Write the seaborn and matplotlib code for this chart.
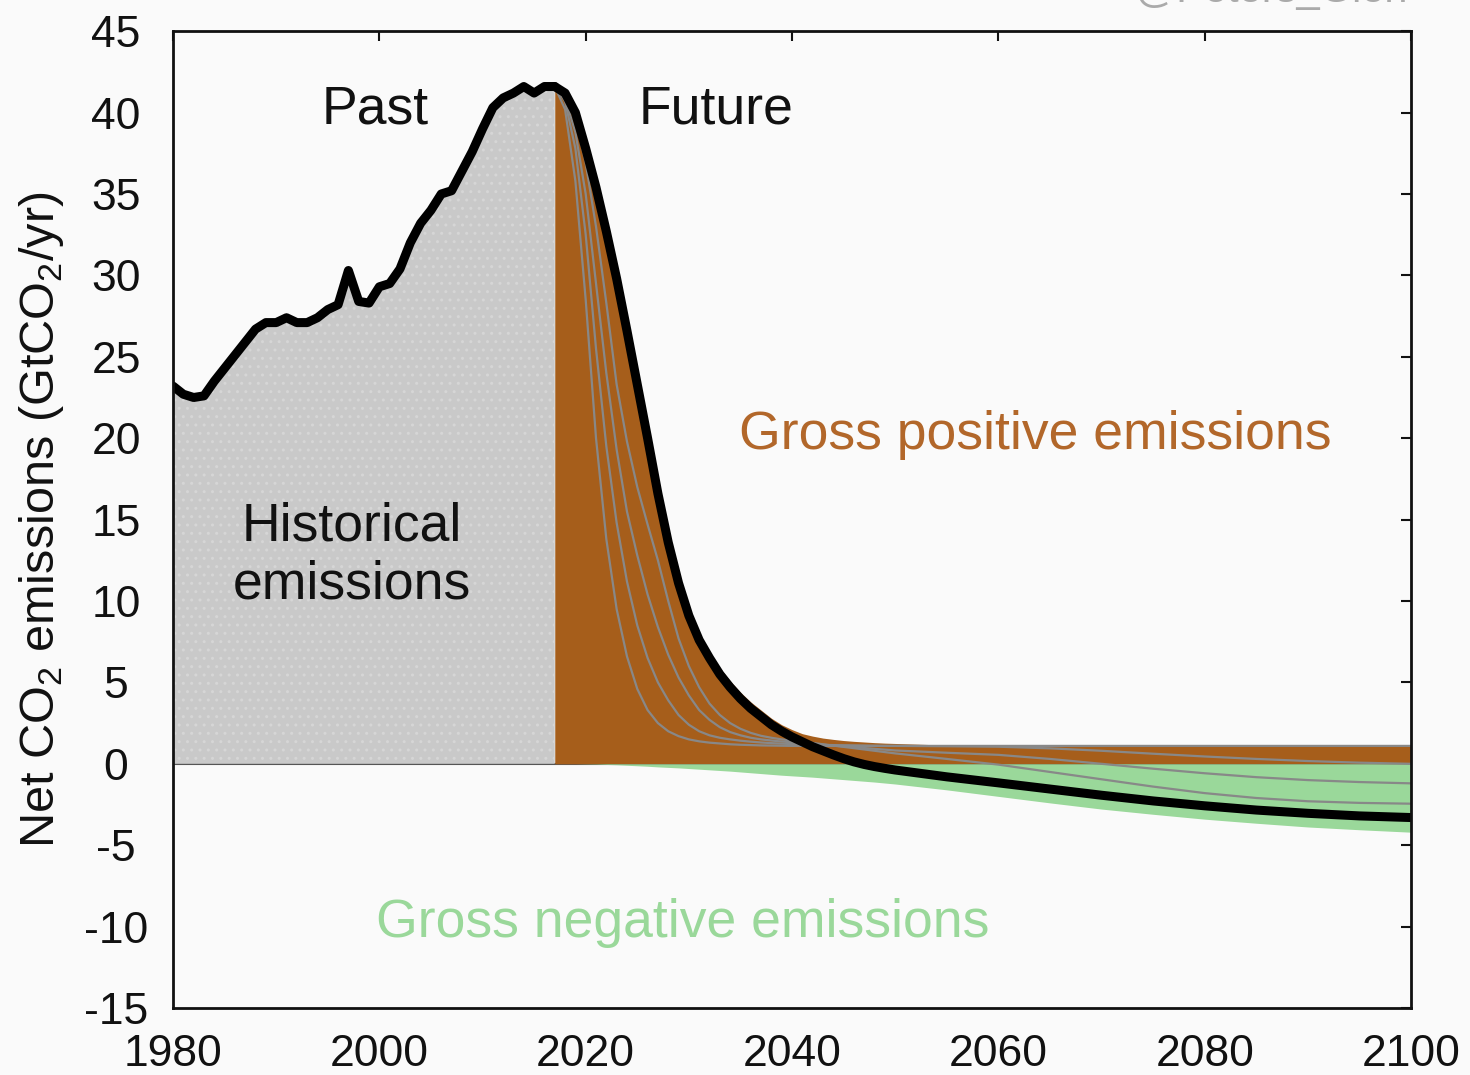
import numpy as np
import pandas as pd
import matplotlib
matplotlib.use("Agg")
import matplotlib.pyplot as plt
import seaborn as sns

# historical net CO2 emissions (GtCO2/yr)
hist_years = list(range(1980, 2018))
hist_values = [23.2, 22.7, 22.5, 22.6, 23.5, 24.3, 25.1, 25.9, 26.7, 27.1,
               27.1, 27.4, 27.1, 27.1, 27.4, 27.9, 28.2, 30.3, 28.4, 28.3,
               29.3, 29.5, 30.4, 32.0, 33.2, 34.0, 35.0, 35.2, 36.4, 37.6,
               39.0, 40.3, 40.9, 41.2, 41.6, 41.2, 41.6, 41.6]

# future scenario years: yearly to 2050, then every 5 years
fut_years = list(range(2017, 2051)) + list(range(2055, 2101, 5))

# main scenario: net, gross positive and gross negative
net_main = [41.6, 41.2, 40.0, 37.8, 35.4, 32.7, 29.8, 26.6, 23.3, 20.0,
            16.6, 13.6, 11.1, 9.1, 7.6, 6.5, 5.5, 4.7, 4.0, 3.4,
            2.9, 2.4, 2.0, 1.65, 1.35, 1.05, 0.8, 0.55, 0.32, 0.12,
            -0.04, -0.17, -0.28, -0.38,
            -0.8, -1.17, -1.55, -1.93, -2.28, -2.58, -2.84, -3.04, -3.2, -3.3]
gross_pos = [41.6, 41.2, 40.0, 37.8, 35.4, 32.7, 29.9, 26.7, 23.4, 20.1,
             16.8, 13.8, 11.3, 9.4, 7.9, 6.8, 5.9, 5.1, 4.4, 3.8,
             3.3, 2.8, 2.4, 2.1, 1.85, 1.7, 1.58, 1.5, 1.43, 1.38,
             1.34, 1.3, 1.27, 1.25,
             1.15, 1.1, 1.1, 1.1, 1.1, 1.1, 1.1, 1.1, 1.1, 1.1]
gross_neg = [0.0, 0.0, 0.0, -0.01, -0.02, -0.04, -0.06, -0.09, -0.12, -0.15,
             -0.19, -0.22, -0.25, -0.29, -0.33, -0.37, -0.41, -0.45, -0.5, -0.55,
             -0.6, -0.65, -0.7, -0.74, -0.78, -0.82, -0.87, -0.92, -0.97, -1.02,
             -1.07, -1.12, -1.18, -1.24,
             -1.6, -2.0, -2.4, -2.78, -3.1, -3.4, -3.65, -3.88, -4.05, -4.2]

# other scenarios (net emissions)
net_alt1 = [41.6, 40.2, 35.8, 28.5, 20.0, 13.8, 9.5, 6.6, 4.6, 3.3,
            2.5, 2.0, 1.7, 1.5, 1.38, 1.3, 1.25, 1.2, 1.17, 1.15,
            1.13, 1.12, 1.11, 1.1, 1.1, 1.1, 1.1, 1.1, 1.1, 1.1,
            1.1, 1.1, 1.1, 1.1,
            1.1, 1.1, 1.1, 1.1, 1.1, 1.1, 1.1, 1.1, 1.1, 1.1]
net_alt2 = [41.6, 40.7, 37.8, 32.5, 25.5, 19.5, 14.8, 11.2, 8.5, 6.5,
            5.0, 3.9, 3.0, 2.4, 2.0, 1.75, 1.6, 1.5, 1.42, 1.36,
            1.31, 1.27, 1.24, 1.21, 1.19, 1.17, 1.16, 1.15, 1.14, 1.13,
            1.12, 1.11, 1.1, 1.1,
            1.08, 1.05, 0.95, 0.8, 0.62, 0.45, 0.3, 0.17, 0.07, 0.0]
net_alt3 = [41.6, 40.9, 38.8, 35.0, 29.5, 24.0, 19.3, 15.5, 12.8, 10.4,
            8.4, 6.7, 5.3, 4.2, 3.3, 2.7, 2.25, 1.95, 1.75, 1.6,
            1.5, 1.43, 1.37, 1.32, 1.27, 1.22, 1.17, 1.12, 1.07, 1.02,
            0.97, 0.92, 0.87, 0.82,
            0.68, 0.55, 0.3, 0.0, -0.3, -0.58, -0.82, -1.0, -1.12, -1.2]
net_alt4 = [41.6, 41.1, 39.6, 36.9, 33.0, 28.3, 23.3, 19.8, 17.0, 14.7,
            12.5, 10.0, 7.7, 6.0, 4.7, 3.7, 3.0, 2.5, 2.15, 1.9,
            1.72, 1.6, 1.5, 1.42, 1.35, 1.28, 1.2, 1.12, 1.04, 0.96,
            0.88, 0.8, 0.72, 0.64,
            0.3, -0.05, -0.5, -0.95, -1.4, -1.8, -2.1, -2.3, -2.4, -2.45]

sns.set_theme(style="white")
plt.rcParams['font.family'] = ['Liberation Sans', 'DejaVu Sans']
plt.rcParams['mathtext.fontset'] = 'custom'
plt.rcParams['mathtext.rm'] = 'Liberation Sans'
plt.rcParams['axes.unicode_minus'] = False
plt.rcParams['hatch.color'] = '#dedede'
plt.rcParams['hatch.linewidth'] = 1.0

bg = '#fafafa'
ink = '#111111'
fig = plt.figure(figsize=(14.7, 10.75), dpi=100, facecolor=bg)
ax = fig.add_axes([0.1177, 0.0623, 0.8422, 0.9087])
ax.set_facecolor(bg)

hist = pd.DataFrame({'year': hist_years, 'value': hist_values})
fut = pd.DataFrame({'year': fut_years, 'net': net_main, 'pos': gross_pos, 'neg': gross_neg,
                    'alt1': net_alt1, 'alt2': net_alt2, 'alt3': net_alt3, 'alt4': net_alt4})

ax.plot([1980, 2100], [0, 0], color='#555555', lw=1.5, zorder=1)

# fills
ax.fill_between(hist['year'], 0, hist['value'], facecolor='#c9c9c9', hatch='..',
                edgecolor='#d6d6d6', linewidth=0, zorder=2)
ax.fill_between(fut['year'], 0, fut['pos'], color='#a65e1b', linewidth=0, zorder=2)
ax.fill_between(fut['year'], fut['neg'], 0, color='#9ad89a', linewidth=0, zorder=2)

# other scenario lines
for col in ['alt1', 'alt2', 'alt3', 'alt4']:
    sns.lineplot(data=fut, x='year', y=col, ax=ax, color='#888888', lw=1.6, zorder=3)

# main lines
sns.lineplot(data=hist, x='year', y='value', ax=ax, color='black', lw=6.5, zorder=4,
             solid_joinstyle='round', solid_capstyle='round')
sns.lineplot(data=fut, x='year', y='net', ax=ax, color='black', lw=6.5, zorder=4,
             solid_joinstyle='round', solid_capstyle='round')

ax.set_xlim(1980, 2100)
ax.set_ylim(-15, 45)
ax.set_xticks(range(1980, 2101, 20))
ax.set_yticks(range(-15, 46, 5))
ax.tick_params(direction='in', length=7, width=1.5, top=True, right=True,
               labelsize=32, colors=ink)
ax.tick_params(axis='x', pad=18.5)
ax.tick_params(axis='y', pad=41)
for lbl in ax.get_yticklabels():
    lbl.set_ha('center')
for s in ax.spines.values():
    s.set_color(ink)
    s.set_linewidth(2)
    s.set_zorder(6)

ax.set_xlabel('')
ax.set_ylabel(r'Net CO$_2$ emissions (GtCO$_2$/yr)', fontsize=35, color=ink)
ax.yaxis.label.set_va('center')
ax.yaxis.set_label_coords(-0.106, 0.5)

txt = 38.5
ax.text(1999.6, 40.2, 'Past', fontsize=txt, ha='center', va='center', color=ink, zorder=5)
ax.text(2032.6, 40.2, 'Future', fontsize=txt, ha='center', va='center', color=ink, zorder=5)
ax.text(1997.3, 12.8, 'Historical\nemissions', fontsize=txt, ha='center', va='center',
        color=ink, linespacing=1.2, zorder=5)
ax.text(2063.6, 20.2, 'Gross positive emissions', fontsize=txt, ha='center', va='center',
        color='#b2672a', zorder=5)
ax.text(2029.4, -9.8, 'Gross negative emissions', fontsize=txt, ha='center', va='center',
        color='#9ad89a', zorder=5)

fig.text(0.958, 0.998, '@Peters_Glen', fontsize=30, ha='right', va='baseline', color='#aaaaaa')

fig.savefig('out.png', dpi=100, facecolor=bg)
